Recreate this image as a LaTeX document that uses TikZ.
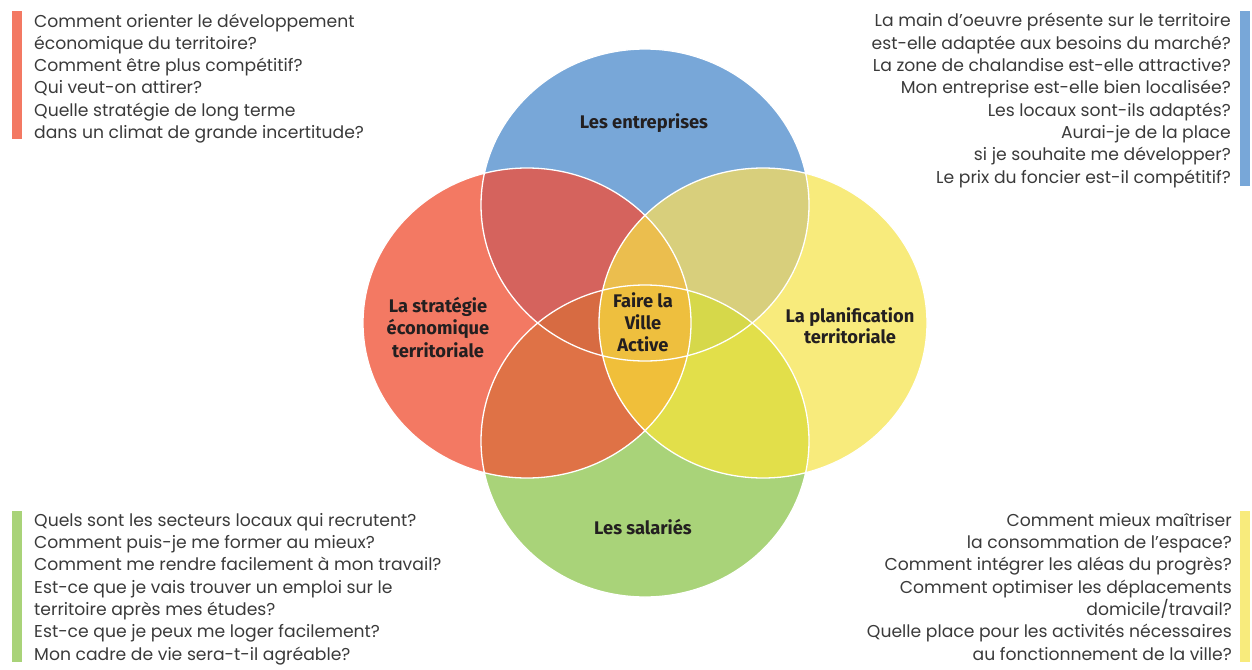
\documentclass[tikz,border=0pt]{standalone}
\usepackage{fontspec}
\setmainfont{Poppins}
\newfontfamily\titrefont{Fira Sans}
\usetikzlibrary{positioning}
\definecolor{encre}{HTML}{3A3A3A}
\definecolor{noir}{HTML}{231F20}
\definecolor{bleu}{HTML}{78A7D8}
\definecolor{rouge}{HTML}{F37963}
\definecolor{jaune}{HTML}{F8EB7C}
\definecolor{vert}{HTML}{A9D379}
\definecolor{bleurouge}{HTML}{D5635D}
\definecolor{bleujaune}{HTML}{D8CF7C}
\definecolor{vertrouge}{HTML}{DF7246}
\definecolor{vertjaune}{HTML}{E2DF4A}
\definecolor{haut}{HTML}{EBBE4E}
\definecolor{gauche}{HTML}{D76B42}
\definecolor{droite}{HTML}{D6D84A}
\definecolor{bas}{HTML}{F0BF3A}
\definecolor{centre}{HTML}{EEBF3E}
% les quatre ovales
\def\ovT{(645,205) ellipse [x radius=164pt, y radius=156pt]}
\def\ovB{(645,441) ellipse [x radius=164pt, y radius=156pt]}
\def\ovL{(527,323) ellipse [x radius=164pt, y radius=155pt]}
\def\ovR{(763,323) ellipse [x radius=164pt, y radius=155pt]}
\tikzset{
  quest/.style={font=\fontsize{17.2}{22.3}\selectfont,text=encre,inner sep=0pt},
  qg/.style={quest,align=left,anchor=base west},
  qd/.style={quest,align=right,anchor=base east},
  titre/.style={font=\titrefont\bfseries\fontsize{18.3}{22}\selectfont,text=noir,
    align=center,inner sep=0pt,anchor=base},
  contour/.style={draw=white,line width=1.3pt},
}

\begin{document}
\begin{tikzpicture}[x=1pt,y=-1pt]
  \useasboundingbox (0,0) rectangle (1252,669);
  % cercles
  \fill[bleu] \ovT;
  \fill[rouge] \ovL;
  \fill[jaune] \ovR;
  \fill[vert] \ovB;
  % intersections de deux
  \begin{scope}\clip \ovT; \fill[bleurouge] \ovL; \fill[bleujaune] \ovR; \end{scope}
  \begin{scope}\clip \ovB; \fill[vertrouge] \ovL; \fill[vertjaune] \ovR; \end{scope}
  % intersections de trois
  \begin{scope}\clip \ovL; \clip \ovR;
    \fill[haut] \ovT; \fill[bas] \ovB; \end{scope}
  \begin{scope}\clip \ovT; \clip \ovB;
    \fill[gauche] \ovL; \fill[droite] \ovR; \end{scope}
  % le centre
  \begin{scope}\clip \ovT; \clip \ovB; \clip \ovL;
    \fill[centre] \ovR; \end{scope}
  \draw[contour] \ovT \ovB \ovL \ovR;

  % titres (ancre = ligne de base de la derniere ligne)
  \node[titre] (entreprises) at (644,128) {Les entreprises};
  \node[titre] (salaries) at (643,534) {Les salariés};
  \node[titre,font=\titrefont\bfseries\fontsize{18.3}{22.5}\selectfont]
    (strategie) at (438,357) {La stratégie\\économique\\territoriale};
  \node[titre,font=\titrefont\bfseries\fontsize{18.3}{21}\selectfont]
    (planif) at (850,343) {La planification\\territoriale};
  \node[titre] (ville) at (643,351) {Faire la\\Ville\\Active};

  % questions
  \fill[rouge] (12,11) rectangle (22,139);
  \fill[bleu] (1240,11) rectangle (1250,186);
  \fill[vert] (12,511) rectangle (22,662);
  \fill[jaune] (1240,511) rectangle (1250,662);
  \node[qg] (qstrategie) at (34,138.5) {Comment orienter le développement\\
    économique du territoire?\\Comment être plus compétitif?\\Qui veut-on attirer?\\
    Quelle stratégie de long terme\\dans un climat de grande incertitude?};
  \node[qd] (qentreprises) at (1231,183) {La main d’oeuvre présente sur le territoire\\
    est-elle adaptée aux besoins du marché?\\La zone de chalandise est-elle attractive?\\
    Mon entreprise est-elle bien localisée?\\Les locaux sont-ils adaptés?\\
    Aurai-je de la place\\si je souhaite me développer?\\Le prix du foncier est-il compétitif?};
  \node[qg] (qsalaries) at (34,660) {Quels sont les secteurs locaux qui recrutent?\\
    Comment puis-je me former au mieux?\\Comment me rendre facilement à mon travail?\\
    Est-ce que je vais trouver un emploi sur le\\territoire après mes études?\\
    Est-ce que je peux me loger facilement?\\Mon cadre de vie sera-t-il agréable?};
  \node[qd] (qplanif) at (1232,660) {Comment mieux maîtriser\\la consommation de l’espace?\\
    Comment intégrer les aléas du progrès?\\Comment optimiser les déplacements\\
    domicile/travail?\\Quelle place pour les activités nécessaires\\
    au fonctionnement de la ville?};
\end{tikzpicture}
\end{document}
